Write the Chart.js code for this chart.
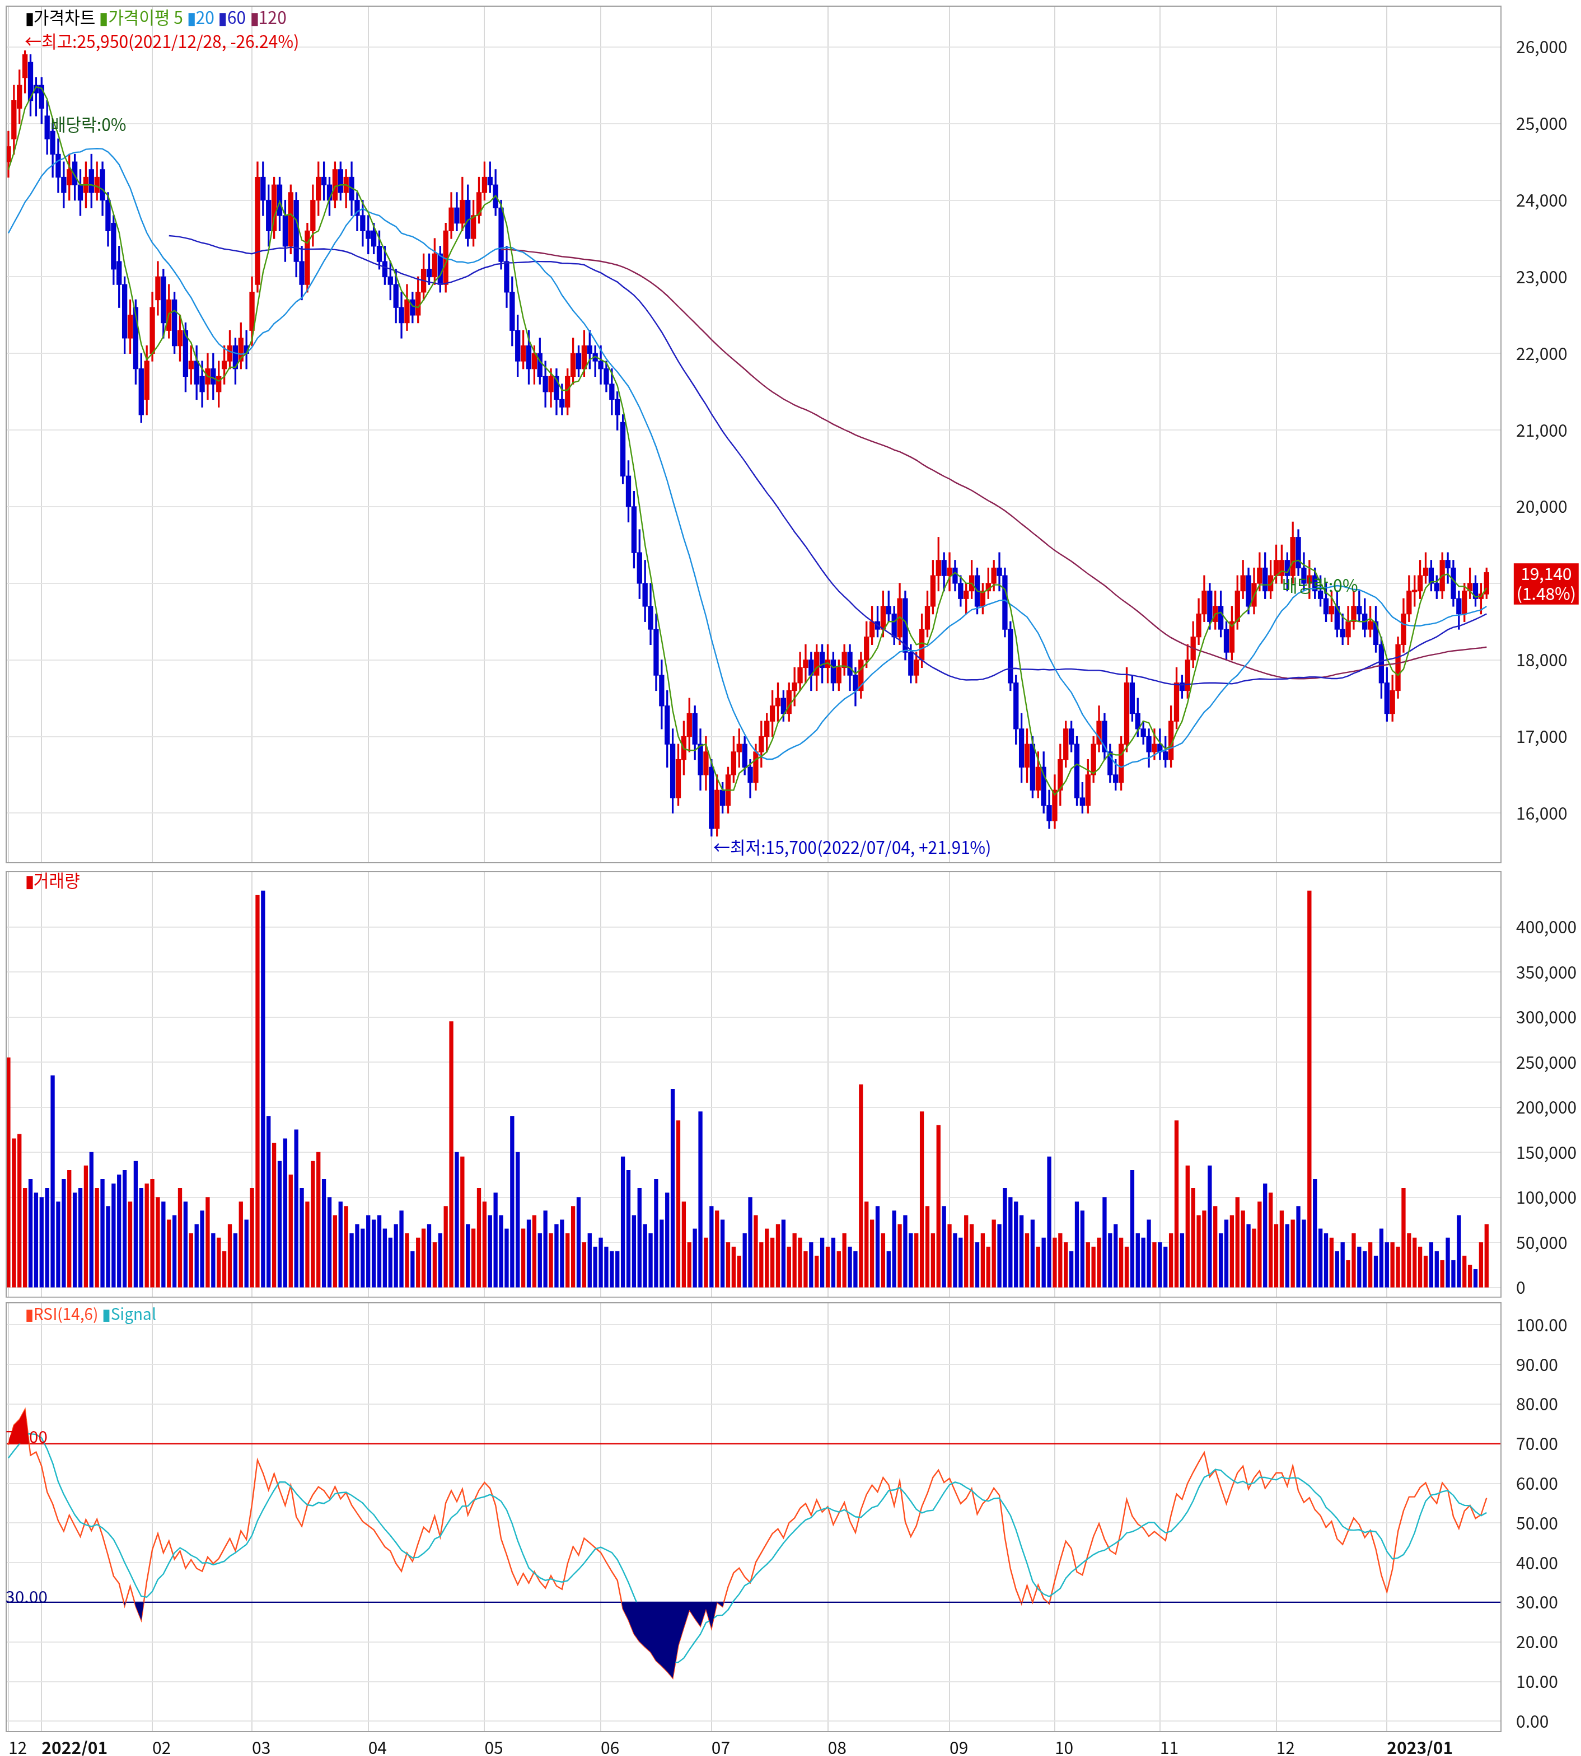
<!DOCTYPE html>
<html><head><meta charset="utf-8">
<script src="https://cdn.jsdelivr.net/npm/chart.js@4/dist/chart.umd.min.js"></script>
<style>
body{margin:0;background:#fff;overflow:hidden}
#wrap{position:absolute;left:0;top:0;width:1412px;height:1568px;transform:scale(1.1197);transform-origin:0 0;font-family:"Noto Sans CJK KR",sans-serif}
canvas{position:absolute;left:0}
.t{position:absolute;font-size:15px;white-space:nowrap;line-height:16px}
</style></head><body>
<div id="wrap">
<canvas id="c1" style="top:0"></canvas>
<canvas id="c2" style="top:773px"></canvas>
<canvas id="c3" style="top:1160px"></canvas>
<div class="t" style="left:22px;top:7px"><span style="color:#000">▮가격차트</span> <span style="color:#4a9a10">▮가격이평 5</span> <span style="color:#1e90e0">▮20</span> <span style="color:#2020c0">▮60</span> <span style="color:#8b2252">▮120</span></div>
<div class="t" style="left:22px;top:29px;color:#e00000">←최고:25,950(2021/12/28, -26.24%)</div>
<div class="t" style="left:45px;top:103px;color:#1a5a1a">배당락:0%</div>
<div class="t" style="left:1145px;top:515px;color:#1a7a1a">배당락:0%</div>
<div class="t" style="left:637px;top:749px;color:#0000c0">←최저:15,700(2022/07/04, +21.91%)</div>
<div class="t" style="left:1352px;top:503px;width:58px;height:37px;background:#e00000;color:#fff;text-align:center;line-height:18px">19,140<br>(1.48%)</div>
<div class="t" style="left:22px;top:778px;color:#e00000">▮거래량</div>
<div class="t" style="left:22px;top:1165px;font-size:14px"><span style="color:#ff4020">▮RSI(14,6)</span> <span style="color:#20b0c0">▮Signal</span></div>
<div class="t" style="left:5px;top:1275px;color:#e00000">70.00</div>
<div class="t" style="left:5px;top:1418px;color:#000080">30.00</div>
</div>
<script>
const preCloses=[225,228,226,229,231,228,227,230,232,229,227,226,229,231,233,230,228,231,234,232,235,233,237,239,236,240,242,241,244,246];
const monthDays=[6,20,18,21,21,21,20,21,22,19,19,21,20,21];
const monthNames=['12','2022/01','02','03','04','05','06','07','08','09','10','11','12','2023/01'];
const opens=[245,248,252,256,258,255,
255,251,249,246,243,242,245,242,241,244,241,244,240,237,232,229,222,226,218,214,
220,227,230,223,227,221,223,218,219,217,216,218,215,218,219,221,219,221,
223,229,243,240,236,242,238,234,240,232,229,236,240,243,242,240,244,241,243,240,238,236,
236,234,232,230,229,226,224,227,225,228,231,230,233,229,236,239,237,240,235,238,241,
243,242,239,232,228,223,219,221,218,220,217,215,217,214,213,217,220,218,221,220,
219,218,216,214,211,204,200,194,190,187,184,178,174,169,162,167,170,173,169,165,
166,158,163,161,165,168,169,166,164,168,170,172,174,175,173,176,177,179,180,178,181,
179,180,177,179,181,178,176,180,183,185,184,187,186,183,188,181,178,180,184,187,191,193,
191,192,190,188,189,191,187,189,190,192,191,184,177,171,166,169,163,166,161,
159,163,167,171,169,162,161,165,169,172,168,165,164,169,177,173,171,170,168,
169,168,167,172,177,176,180,183,186,189,185,187,184,181,185,189,191,187,190,192,189,191,
191,193,191,196,192,190,191,189,188,186,187,184,183,185,187,186,184,185,182,177,
173,176,182,186,189,189,191,192,190,189,193,192,188,186,189,190,188,188.6];
const closes=[247,253,255,259,253,254,
252,248,246,243,241,244,242,240,243,241,243,240,236,231,229,222,225,218,212,219,
226,230,224,227,221,223,217,219,216,215,218,216,217,219,221,218,222,220,
228,243,240,236,242,238,234,241,232,229,236,240,243,242,240,244,241,243,240,238,236,235,
234,232,230,229,226,224,227,225,228,231,230,233,229,236,239,237,240,235,238,241,243,
242,239,232,228,223,219,221,218,220,217,215,217,214,213,217,220,218,221,220,219,
218,216,214,212,204,200,194,190,187,184,178,174,169,162,167,170,173,169,165,168,
158,163,161,165,168,169,166,164,168,170,172,174,175,173,176,177,179,180,178,181,179,
180,177,179,181,178,176,180,183,185,184,187,186,183,188,181,178,180,184,187,191,193,191,
192,190,188,189,191,187,189,190,192,191,184,177,171,166,169,163,166,161,159,
163,167,171,169,162,161,165,169,172,168,165,164,169,177,173,171,170,168,169,
168,167,172,177,176,180,183,186,189,185,187,184,181,185,189,191,187,190,192,189,191,193,
193,191,196,192,190,191,189,188,186,187,184,183,185,187,186,184,185,182,177,173,
176,182,186,189,189,191,192,190,189,193,192,188,186,189,190,188,188.6,191.4];
const highs=[249,255,257,259.5,259,256,
256,253,250,248,245,246,246,244,245,246,245,245,241,238,234,230,227,227,220,221,
228,232,231,229,228,225,224,221,221,219,220,220,219,221,223,222,224,223,
230,245,245,242,243,243,240,242,241,234,237,242,245,245,243,245,245,244,245,241,240,238,
237,236,234,232,231,228,229,228,230,233,233,235,234,237,241,241,243,242,240,243,245,
245,244,240,234,230,225,223,223,221,222,219,218,218,216,218,222,221,223,223,221,
221,219,218,215,212,206,202,197,193,190,186,180,176,171,169,172,175,174,171,170,
167,165,164,166,170,171,170,167,169,172,173,176,177,176,177,179,181,182,181,182,182,
182,181,180,182,182,179,181,185,187,187,189,189,187,190,189,182,181,186,189,193,196,194,
194,193,191,190,193,192,190,192,193,194,192,185,178,173,171,170,168,168,163,
165,169,172,172,170,164,167,170,174,173,169,167,170,179,178,175,172,171,171,
171,170,174,179,178,182,185,188,191,190,189,189,185,187,191,193,192,192,194,194,193,195,
195,194,198,197,194,193,192,191,190,189,189,186,187,189,189,188,187,187,183,179,
178,183,188,191,191,193,194,193,191,194,194,193,189,190,192,191,190,192];
const lows=[243,246,250,254,251,251,
250,246,243,241,239,240,240,238,239,239,240,238,234,229,226,220,220,216,211,212,
219,225,222,222,220,219,215,216,214,213,214,214,213,216,218,216,218,218,
221,228,238,234,235,236,232,233,230,227,228,234,238,240,238,239,240,239,238,236,234,233,
233,231,229,227,224,222,223,224,224,227,229,229,228,228,235,236,236,234,234,237,240,
241,238,231,226,221,217,218,216,216,216,213,213,212,212,212,216,217,217,218,217,
216,215,212,210,203,198,192,188,185,182,176,171,166,160,161,165,168,167,163,163,
157,157,160,160,164,166,165,162,163,166,168,170,172,172,172,174,176,177,176,176,177,
177,176,176,178,176,174,175,179,182,183,183,185,182,182,180,177,177,179,183,186,189,189,
189,189,187,186,188,186,186,188,189,189,183,176,169,164,164,162,162,160,158,
158,161,166,168,161,160,160,164,168,167,164,163,163,168,172,170,169,166,167,
167,166,166,171,175,175,179,182,185,184,184,183,180,180,184,188,186,186,189,188,188,190,
190,189,190,191,189,188,188,187,185,185,183,182,182,184,185,183,183,181,175,172,
172,175,181,185,187,188,190,189,188,188,190,187,184,185,188,187,186,188];
const volumes=[255,165,170,110,120,105,
100,110,235,95,120,130,105,110,135,150,110,120,90,115,125,130,95,140,110,115,
120,100,95,75,80,110,95,60,70,85,100,60,55,40,70,60,95,75,
110,435,440,190,160,140,165,125,175,110,95,140,150,120,100,80,95,90,60,70,65,80,
75,80,65,55,70,85,60,40,55,65,70,50,60,90,295,150,145,70,65,110,95,
80,105,80,65,190,150,65,75,80,60,85,60,70,75,60,90,100,50,60,45,
55,45,40,40,145,130,80,110,70,60,120,75,105,220,185,95,50,65,195,55,
90,85,75,50,45,35,60,100,80,50,65,55,70,75,45,60,55,40,50,35,55,
45,55,40,60,45,40,225,95,75,90,60,40,85,70,80,60,60,195,90,60,180,90,
70,60,55,80,70,50,60,45,75,70,110,100,95,80,60,75,45,55,145,
55,60,50,40,95,85,50,45,55,100,60,70,55,45,130,60,55,75,50,
50,45,60,185,60,135,110,80,85,135,90,60,75,80,100,85,70,65,95,115,105,70,
85,70,75,90,75,440,120,65,60,55,40,50,30,60,45,40,50,35,65,50,
50,45,110,60,55,45,35,50,40,30,55,30,80,35,25,20,50,70];

const N=Math.min(opens.length,closes.length,highs.length,lows.length,volumes.length);
const labels=[],monthStart={};
let k=0;monthDays.forEach((d,m)=>{for(let i=0;i<d;i++){if(i===0)monthStart[k]=monthNames[m];labels.push(k);k++;}});
while(labels.length<N)labels.push(labels.length);
const L=labels.slice(0,N);
const all=preCloses.concat(closes.slice(0,N)).map(v=>v*100);
const P=preCloses.length;
function ma(n){return L.map((_,i)=>{const j=i+P;if(j+1<n)return null;let s=0;for(let q=j-n+1;q<=j;q++)s+=all[q];return s/n;});}
const rsiAll=[];let ag=0,al=0;
for(let i=1;i<all.length;i++){const d=all[i]-all[i-1];const g=Math.max(d,0),l=Math.max(-d,0);
 if(i<=14){ag+=g/14;al+=l/14;}else{ag=(ag*13+g)/14;al=(al*13+l)/14;}
 rsiAll[i]=i>=14?(al===0?100:100-100/(1+ag/al)):null;}
const rsi=L.map((_,i)=>rsiAll[i+P]);
const sig=L.map((_,i)=>{let s=0;for(let q=0;q<6;q++)s+=rsiAll[i+P-q];return s/6;});
const up=L.map((_,i)=>closes[i]>=opens[i]);
const RED='#e00000',BLUE='#0000d0';
const body=L.map((_,i)=>{let a=Math.min(opens[i],closes[i])*100,b=Math.max(opens[i],closes[i])*100;if(b-a<20){a-=10;b+=10;}return [a,b];});
const wick=L.map((_,i)=>[lows[i]*100,highs[i]*100]);
const cols=up.map(u=>u?RED:BLUE);

const frame={id:'frame',afterDraw(c){const a=c.chartArea,x=c.ctx;x.save();x.strokeStyle='#a0a0a0';x.lineWidth=1;x.strokeRect(a.left+.5,a.top+.5,a.right-a.left,a.bottom-a.top);x.restore();}};
const hl={id:'hl',beforeDatasetsDraw(c){const a=c.chartArea,x=c.ctx,y=c.scales.y;x.save();x.lineWidth=1.2;
 [[70,'#e00000'],[30,'#000080']].forEach(([v,col])=>{const p=y.getPixelForValue(v);x.strokeStyle=col;x.beginPath();x.moveTo(a.left,p);x.lineTo(a.right,p);x.stroke();});x.restore();}};
function xAxis(show){return {type:'category',offset:true,
 grid:{offset:false,color:c=>monthStart[c.index]!==undefined?'#d8d8d8':'transparent',drawTicks:false},border:{display:false},
 ticks:{display:show,autoSkip:false,maxRotation:0,align:'start',padding:6,color:'#111',
  font:c=>({size:15,family:'"Noto Sans CJK KR"',weight:(monthStart[c.index]||'').length>2?'bold':'normal'}),
  callback:(v,i)=>monthStart[i]||''},
 afterFit:s=>{s.height=show?22:0;s.paddingLeft=0;s.paddingRight=0;}};}
function yAxis(min,max,step,top,fmt){return {position:'right',min,max,
 afterBuildTicks:s=>{s.ticks=[];for(let v=Math.ceil(Math.max(min,0)/step)*step;v<=top;v+=step)s.ticks.push({value:v});},
 grid:{color:'#e4e4e4',drawTicks:false},border:{display:false},
 ticks:{padding:14,color:'#222',font:{size:15,family:'"Noto Sans CJK KR"'},callback:fmt},
 afterFit:s=>{s.width=72;s.paddingTop=0;s.paddingBottom=0;}};}
const base={responsive:false,animation:false,devicePixelRatio:2,plugins:{legend:{display:false},tooltip:{enabled:false}}};
function mk(id,w,h){const c=document.getElementById(id);c.width=w;c.height=h;c.style.width=w+'px';c.style.height=h+'px';return c;}

new Chart(mk('c1',1412,772),{type:'bar',data:{labels,datasets:[
 {type:'line',data:ma(5),borderColor:'#4a9a10',borderWidth:1.2,pointRadius:0,order:0},
 {type:'line',data:ma(20),borderColor:'#1e90e0',borderWidth:1.2,pointRadius:0,order:0},
 {type:'line',data:ma(60),borderColor:'#2020c0',borderWidth:1.2,pointRadius:0,order:0},
 {type:'line',data:ma(120),borderColor:'#8b2252',borderWidth:1.2,pointRadius:0,order:0},
 {data:body,backgroundColor:cols,barThickness:4,grouped:false,order:1},
 {data:wick,backgroundColor:cols,barThickness:1,grouped:false,order:2}]},
 options:{...base,layout:{padding:{left:5,top:5,bottom:2}},scales:{x:xAxis(false),y:yAxis(15360,26540,1000,26000,v=>v.toLocaleString('en-US'))}},plugins:[frame]});

new Chart(mk('c2',1412,386),{type:'bar',data:{labels,datasets:[
 {data:volumes.slice(0,N).map(v=>v*1000),backgroundColor:cols,barThickness:3}]},
 options:{...base,layout:{padding:{left:5,top:5,bottom:1}},scales:{x:xAxis(false),y:yAxis(-10000,462000,50000,400000,v=>v.toLocaleString('en-US'))}},plugins:[frame]});

new Chart(mk('c3',1412,408),{type:'line',data:{labels,datasets:[
 {data:rsi,borderColor:'transparent',pointRadius:0,fill:{target:{value:30},above:'transparent',below:'#000080'}},
 {data:rsi,borderColor:'transparent',pointRadius:0,fill:{target:{value:70},above:'#e00000',below:'transparent'}},
 {data:sig,borderColor:'#20b8c8',borderWidth:1.2,pointRadius:0},
 {data:rsi,borderColor:'#ff5020',borderWidth:1.2,pointRadius:0}]},
 options:{...base,layout:{padding:{left:5,top:3}},scales:{x:xAxis(true),y:yAxis(-2.5,105.7,10,100,v=>v.toFixed(2))}},plugins:[hl,frame]});
</script>
</body></html>
